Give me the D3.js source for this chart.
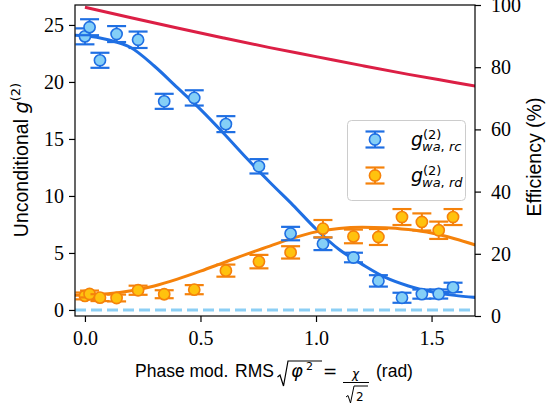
<!DOCTYPE html>
<html><head><meta charset="utf-8">
<script src="https://cdn.jsdelivr.net/npm/d3@7"></script>
<style>body{margin:0;background:#fff}svg{display:block}</style>
</head><body>
<svg id="chart" width="547" height="405"></svg>
<script>
// ---- data ----
const xVals = [0.0, 0.02, 0.065, 0.137, 0.23, 0.343, 0.473, 0.61, 0.753, 0.89, 1.03, 1.162, 1.27, 1.372, 1.458, 1.531, 1.593];
const rcVals = [24.0, 24.8, 21.9, 24.2, 23.7, 18.3, 18.6, 16.3, 12.6, 6.7, 5.8, 4.6, 2.55, 1.07, 1.39, 1.4, 1.98];
const rcErr  = [0.7, 0.7, 0.66, 0.7, 0.72, 0.66, 0.67, 0.7, 0.63, 0.59, 0.55, 0.42, 0.5, 0.44, 0.4, 0.4, 0.41];
const rdVals = [1.23, 1.40, 1.08, 1.05, 1.73, 1.38, 1.78, 3.45, 4.24, 5.05, 7.13, 6.45, 6.4, 8.15, 7.72, 6.99, 8.15];
const rdErr  = [0.3, 0.3, 0.3, 0.3, 0.4, 0.35, 0.4, 0.53, 0.59, 0.54, 0.76, 0.6, 0.7, 0.7, 0.75, 0.76, 0.7];
const fitX   = [-0.043, 0.0, 0.1, 0.2, 0.3, 0.4, 0.5, 0.6, 0.7, 0.8, 0.9, 1.0, 1.1, 1.2, 1.3, 1.4, 1.5, 1.6, 1.69];
const rcFit  = [24.1, 24.05, 23.7, 23.0, 21.4, 19.5, 17.6, 15.5, 13.3, 11.2, 9.2, 7.1, 5.3, 4.0, 2.85, 2.1, 1.6, 1.28, 1.1];
const rdFit  = [1.3, 1.32, 1.42, 1.68, 2.1, 2.7, 3.4, 4.15, 4.9, 5.6, 6.3, 6.85, 7.15, 7.25, 7.22, 7.05, 6.75, 6.25, 5.7];
const effX   = [0.0, 0.2, 0.4, 0.6, 0.8, 1.0, 1.2, 1.4, 1.6, 1.7];
const effVals= [99.3, 95.9, 92.6, 89.4, 86.3, 83.4, 80.5, 77.7, 75.1, 73.8];
const xTicks = [0.0, 0.5, 1.0, 1.5];
const yLTicks = [0, 5, 10, 15, 20, 25];
const yRTicks = [0, 20, 40, 60, 80, 100];

// ---- layout ----
const L = 75, R = 475, T = 5, B = 316;
const svg = d3.select("#chart");
const x = d3.scaleLinear().domain([-0.043, 1.688]).range([L, R]);
const yL = d3.scaleLinear().domain([-0.53, 26.75]).range([B, T]);
const yR = d3.scaleLinear().domain([0, 100]).range([B, T]);

const BLUE = "#1f6fe3", BLUEF = "#84cff7", ORANGE = "#f5820b", ORANGEF = "#ffc20e", RED = "#dc1f45", DASH = "#8ccff5";

svg.append("clipPath").attr("id", "clip").append("rect").attr("x", L).attr("y", T).attr("width", R - L).attr("height", B - T);
const plot = svg.append("g").attr("clip-path", "url(#clip)");

// dashed zero line
plot.append("line").attr("x1", L).attr("x2", R).attr("y1", yL(0)).attr("y2", yL(0))
  .attr("stroke", DASH).attr("stroke-width", 3).attr("stroke-dasharray", "11,5");

const lineL = (ys) => d3.line().x((d, i) => x(fitX[i])).y((d, i) => yL(ys[i])).curve(d3.curveMonotoneX);
plot.append("path").datum(effVals).attr("fill", "none").attr("stroke", RED).attr("stroke-width", 3)
  .attr("d", d3.line().x((d, i) => x(effX[i])).y(d => yR(d)).curve(d3.curveMonotoneX));
plot.append("path").datum(rcFit).attr("fill", "none").attr("stroke", BLUE).attr("stroke-width", 3).attr("d", lineL(rcFit));
plot.append("path").datum(rdFit).attr("fill", "none").attr("stroke", ORANGE).attr("stroke-width", 3).attr("d", lineL(rdFit));

function errGlyph(g, cx, cy, ylo, yhi, edge, fill) {
  g.append("line").attr("x1", cx).attr("x2", cx).attr("y1", ylo).attr("y2", yhi).attr("stroke", edge).attr("stroke-width", 2);
  g.append("line").attr("x1", cx - 9.5).attr("x2", cx + 9.5).attr("y1", ylo).attr("y2", ylo).attr("stroke", edge).attr("stroke-width", 2.2);
  g.append("line").attr("x1", cx - 9.5).attr("x2", cx + 9.5).attr("y1", yhi).attr("y2", yhi).attr("stroke", edge).attr("stroke-width", 2.2);
  g.append("circle").attr("cx", cx).attr("cy", cy).attr("r", 5.6).attr("fill", fill).attr("stroke", edge).attr("stroke-width", 1.6);
}
const gB = plot.append("g"), gO = plot.append("g");
xVals.forEach((xv, i) => errGlyph(gB, x(xv), yL(rcVals[i]), yL(rcVals[i] - rcErr[i]), yL(rcVals[i] + rcErr[i]), BLUE, BLUEF));
xVals.forEach((xv, i) => errGlyph(gO, x(xv), yL(rdVals[i]), yL(rdVals[i] - rdErr[i]), yL(rdVals[i] + rdErr[i]), ORANGE, ORANGEF));

// ---- axes ----
const serif = "Liberation Serif";
const sans = "Liberation Sans";
const ax = svg.append("g").attr("transform", `translate(0,${B})`).call(d3.axisBottom(x).tickValues(xTicks).tickFormat(d3.format(".1f")).tickSize(6).tickPadding(9));
const ayl = svg.append("g").attr("transform", `translate(${L},0)`).call(d3.axisLeft(yL).tickValues(yLTicks).tickFormat(d3.format("d")).tickSize(6).tickPadding(5));
const ayr = svg.append("g").attr("transform", `translate(${R},0)`).call(d3.axisRight(yR).tickValues(yRTicks).tickFormat(d3.format("d")).tickSize(6).tickPadding(10));
[ax, ayl, ayr].forEach(a => {
  a.attr("font-family", serif).attr("font-size", 20);
  a.select(".domain").remove();
  a.selectAll("line").attr("stroke", "#000").attr("stroke-width", 1.2);
  a.selectAll("text").attr("fill", "#000");
});
ax.selectAll("text").attr("dy", "0.72em");
// frame
svg.append("rect").attr("x", L).attr("y", T).attr("width", R - L).attr("height", B - T)
  .attr("fill", "none").attr("stroke", "#000").attr("stroke-width", 1.2);

// ---- legend ----
const lg = svg.append("g");
lg.append("rect").attr("x", 347.5).attr("y", 120.5).attr("width", 118).attr("height", 80).attr("rx", 4)
  .attr("fill", "rgba(255,255,255,0.85)").attr("stroke", "#cccccc").attr("stroke-width", 1);
const legendItems = [
  {edge: BLUE, fill: BLUEF, sub: "rc", cy: 139.5},
  {edge: ORANGE, fill: ORANGEF, sub: "rd", cy: 175.5}
];
const mathFont = "DejaVu Sans";
legendItems.forEach(it => {
  errGlyph(lg, 375, it.cy, it.cy + 8, it.cy - 8, it.edge, it.fill);
  const t = lg.append("text").attr("x", 411).attr("y", it.cy + 6).attr("font-family", mathFont).attr("fill", "#000");
  t.append("tspan").attr("font-size", 19).attr("font-style", "italic").text("g");
  t.append("tspan").attr("x", 423).attr("dy", -7).attr("font-size", 13).text("(2)");
  const s = lg.append("text").attr("x", 422).attr("y", it.cy + 11).attr("font-family", mathFont).attr("font-size", 13).attr("fill", "#000");
  s.append("tspan").attr("font-style", "italic").text("wa");
  s.append("tspan").text(", ");
  s.append("tspan").attr("font-style", "italic").text(it.sub);
});

// ---- axis labels ----
const yl = svg.append("text").attr("transform", "translate(28,160) rotate(-90)").attr("text-anchor", "middle")
  .attr("font-family", sans).attr("font-size", 19.5).attr("fill", "#000");
yl.append("tspan").text("Unconditional ");
yl.append("tspan").attr("font-family", mathFont).attr("font-style", "italic").text("g");
yl.append("tspan").attr("font-family", mathFont).attr("font-size", 13).attr("dy", -8).text("(2)");

svg.append("text").attr("transform", "translate(541,157) rotate(-90)").attr("text-anchor", "middle")
  .attr("font-family", sans).attr("font-size", 19.5).attr("fill", "#000").text("Efficiency (%)");

// x label with math
const xl = svg.append("g").attr("fill", "#000");
const base = 377;
xl.append("text").attr("x", 135).attr("y", base).attr("font-family", sans).attr("font-size", 17.5).text("Phase mod.");
xl.append("text").attr("x", 235).attr("y", base).attr("font-family", sans).attr("font-size", 17.5).text("RMS");
xl.append("path").attr("d", `M277.5,${base} L280,${base - 2} L283.5,${base + 9} L288,${base - 16} H322`).attr("fill", "none").attr("stroke", "#000").attr("stroke-width", 1.2);
xl.append("text").attr("x", 291).attr("y", base).attr("font-family", mathFont).attr("font-style", "italic").attr("font-size", 18).text("φ");
xl.append("text").attr("x", 306).attr("y", base - 7).attr("font-family", mathFont).attr("font-size", 11).text("2");
xl.append("text").attr("x", 323).attr("y", base).attr("font-family", mathFont).attr("font-size", 17).text("=");
xl.append("text").attr("x", 355.5).attr("y", base + 1).attr("text-anchor", "middle").attr("font-family", mathFont).attr("font-style", "italic").attr("font-size", 12).text("χ");
xl.append("line").attr("x1", 343).attr("x2", 369).attr("y1", base + 5.5).attr("y2", base + 5.5).attr("stroke", "#000").attr("stroke-width", 1);
xl.append("path").attr("d", `M346,${base + 20} L348,${base + 18.5} L350.5,${base + 26} L354,${base + 9} H368`).attr("fill", "none").attr("stroke", "#000").attr("stroke-width", 1);
xl.append("text").attr("x", 356).attr("y", base + 24).attr("font-family", mathFont).attr("font-size", 12).text("2");
xl.append("text").attr("x", 376).attr("y", base).attr("font-family", sans).attr("font-size", 17.5).text("(rad)");
</script>
</body></html>
